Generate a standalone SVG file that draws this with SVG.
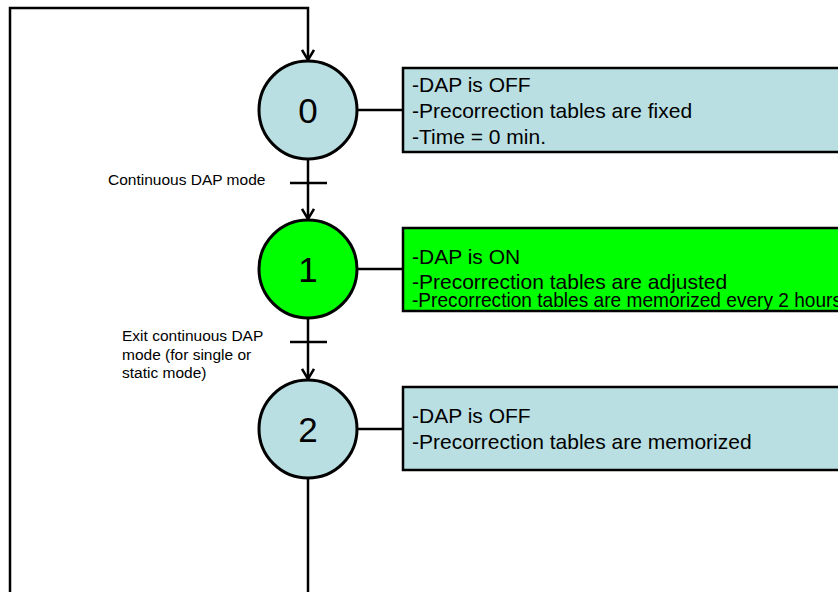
<svg xmlns="http://www.w3.org/2000/svg" width="838" height="592" viewBox="0 0 838 592">
<style>
.step{stroke:#000;stroke-width:3}
.blue{fill:#b9dfe3}
.green{fill:#00ff00}
.box{stroke:#000;stroke-width:2.5}
.num{font-family:"Liberation Sans",Arial,sans-serif;font-size:35px;fill:#000;text-anchor:middle}
.txt{font-family:"Liberation Sans",Arial,sans-serif;font-size:21px;fill:#000}
.lbl{font-family:"Liberation Sans",Arial,sans-serif;font-size:15.5px;fill:#000}
.wire{fill:none;stroke:#000;stroke-width:2.5}
</style>
<defs>
<marker id="arr" markerWidth="14" markerHeight="14" refX="12" refY="7" orient="auto" markerUnits="userSpaceOnUse" viewBox="0 0 14 14">
<path d="M2,1 L12,7 L2,13" fill="none" stroke="#000" stroke-width="2.5"/>
</marker>
<clipPath id="c1"><rect x="403" y="228" width="440" height="83"/></clipPath>
</defs>
<rect width="838" height="592" fill="#fff"/>
<g id="connectors">
<path class="wire" d="M10,592 V8 H308 V60" marker-end="url(#arr)"/>
<path class="wire" d="M308,159 V219" marker-end="url(#arr)"/>
<path class="wire" d="M308,318 V379" marker-end="url(#arr)"/>
<path class="wire" d="M308,478 V592"/>
<path class="wire" d="M290,183 H327"/>
<path class="wire" d="M290,342 H327"/>
<path class="wire" d="M357,110 H403"/>
<path class="wire" d="M357,269 H403"/>
<path class="wire" d="M357,429 H403"/>
<text class="lbl" x="108" y="185">Continuous DAP mode</text>
<text class="lbl" x="122" y="341">Exit continuous DAP</text>
<text class="lbl" x="122" y="359.5">mode (for single or</text>
<text class="lbl" x="122" y="378">static mode)</text>
</g>
<g id="step0">
<circle class="step blue" cx="308" cy="110" r="49"/>
<text class="num" x="308" y="122.5">0</text>
</g>
<g id="action0">
<rect class="box blue" x="403" y="68" width="450" height="84"/>
<text class="txt" x="412" y="92">-DAP is OFF</text>
<text class="txt" x="412" y="117.5">-Precorrection tables are fixed</text>
<text class="txt" x="412" y="144">-Time = 0 min.</text>
</g>
<g id="step1">
<circle class="step green" cx="308" cy="269" r="49"/>
<text class="num" x="308" y="281.5">1</text>
</g>
<g id="action1">
<rect class="green" x="403" y="228" width="450" height="83"/>
<g clip-path="url(#c1)">
<text class="txt" x="412" y="264">-DAP is ON</text>
<text class="txt" x="412" y="289">-Precorrection tables are adjusted</text>
<text class="txt" x="412" y="307" textLength="430" lengthAdjust="spacingAndGlyphs">-Precorrection tables are memorized every 2 hours</text>
</g>
<rect class="box" fill="none" x="403" y="228" width="450" height="83"/>
</g>
<g id="step2">
<circle class="step blue" cx="308" cy="429" r="49"/>
<text class="num" x="308" y="441.5">2</text>
</g>
<g id="action2">
<rect class="box blue" x="403" y="387" width="450" height="83"/>
<text class="txt" x="412" y="423">-DAP is OFF</text>
<text class="txt" x="412" y="449">-Precorrection tables are memorized</text>
</g>
</svg>
